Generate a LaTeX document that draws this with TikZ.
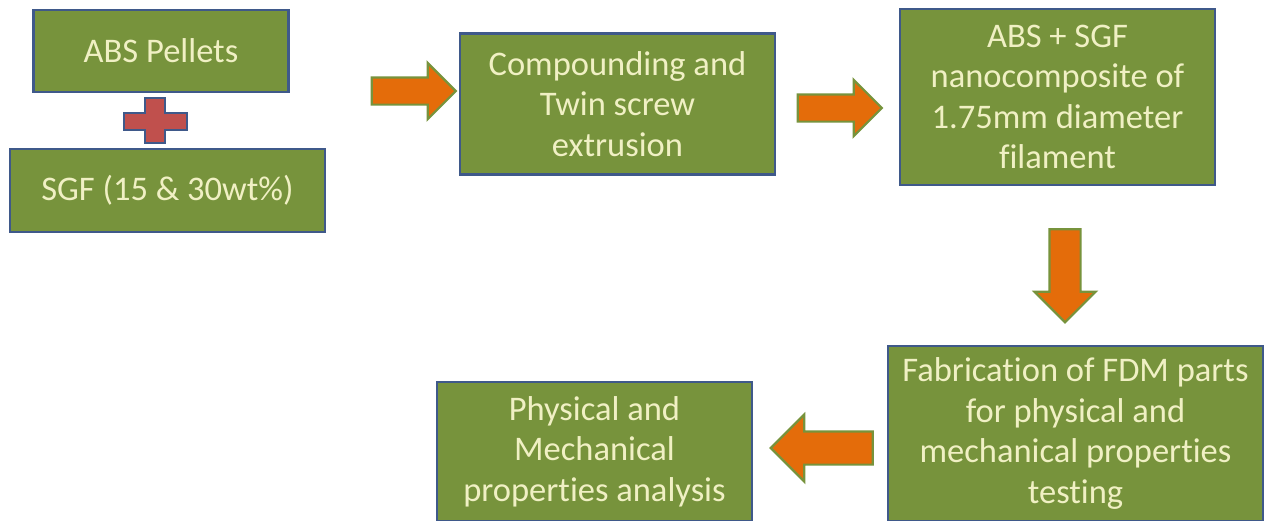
\documentclass[tikz,border=0pt]{standalone}
\usepackage{fontspec}
\setmainfont{Carlito}[Ligatures={NoCommon}]
\usetikzlibrary{shapes.arrows}
\definecolor{boxfill}{RGB}{119,147,60}
\definecolor{boxline}{RGB}{63,89,138}
\definecolor{boxtext}{RGB}{240,240,196}
\definecolor{arrfill}{RGB}{228,108,10}
\definecolor{plusfill}{RGB}{192,80,77}
\tikzset{
  stepbox/.style={draw=boxline, line width=2.8pt, fill=boxfill, text=boxtext,
    align=center, inner sep=0pt, font=\fontsize{34.5}{40.5}\selectfont},
  blockarrow/.style={single arrow, draw=boxfill, line width=2.2pt, fill=arrfill,
    single arrow tip angle=90, single arrow head indent=0pt}
}
\begin{document}
\begin{tikzpicture}[x=1pt,y=-1pt]
\useasboundingbox (0,0) rectangle (1269,520);
\fill[white] (0,0) rectangle (1269,520);

\node[stepbox, minimum width=255, minimum height=82] (abs) at (161,51) {ABS Pellets};
\node[stepbox, minimum width=315, minimum height=83] (sgf) at (167.5,190.5) {SGF (15 \& 30wt\%)};
\node[stepbox, minimum width=315, minimum height=141] (comp) at (617.5,104) {Compounding and\\Twin screw\\extrusion};
\node[stepbox, minimum width=315, minimum height=176] (fil) at (1057.5,97) {ABS + SGF\\nanocomposite of\\1.75mm diameter\\filament};
\node[stepbox, minimum width=375, minimum height=175] (fab) at (1075.5,433.5) {Fabrication of FDM parts\\for physical and\\mechanical properties\\testing};
\node[stepbox, minimum width=315, minimum height=139] (ana) at (594.5,451.5) {Physical and\\Mechanical\\properties analysis};

% plus sign
\draw[boxline, line width=2.5pt, fill=plusfill]
  (145,98) -- (165,98) -- (165,113) -- (187,113) -- (187,130) -- (165,130)
  -- (165,143) -- (145,143) -- (145,130) -- (124,130) -- (124,113) -- (145,113) -- cycle;

% block arrows
\node[blockarrow, minimum height=84, inner xsep=0pt, inner ysep=12.5pt, single arrow head extend=14.5pt] (ar1) at (407,91) {};
\node[blockarrow, minimum height=84, inner xsep=0pt, inner ysep=12.5pt, single arrow head extend=14.5pt] (ar2) at (833,108) {};
\node[blockarrow, minimum height=93, inner ysep=0pt, inner xsep=14.5pt, single arrow head extend=15pt, shape border rotate=270] (ar3) at (1065,268) {};
\node[blockarrow, minimum height=102, inner xsep=0pt, inner ysep=15.5pt, single arrow head extend=17pt, shape border rotate=180] (ar4) at (830,448) {};
\end{tikzpicture}
\end{document}
